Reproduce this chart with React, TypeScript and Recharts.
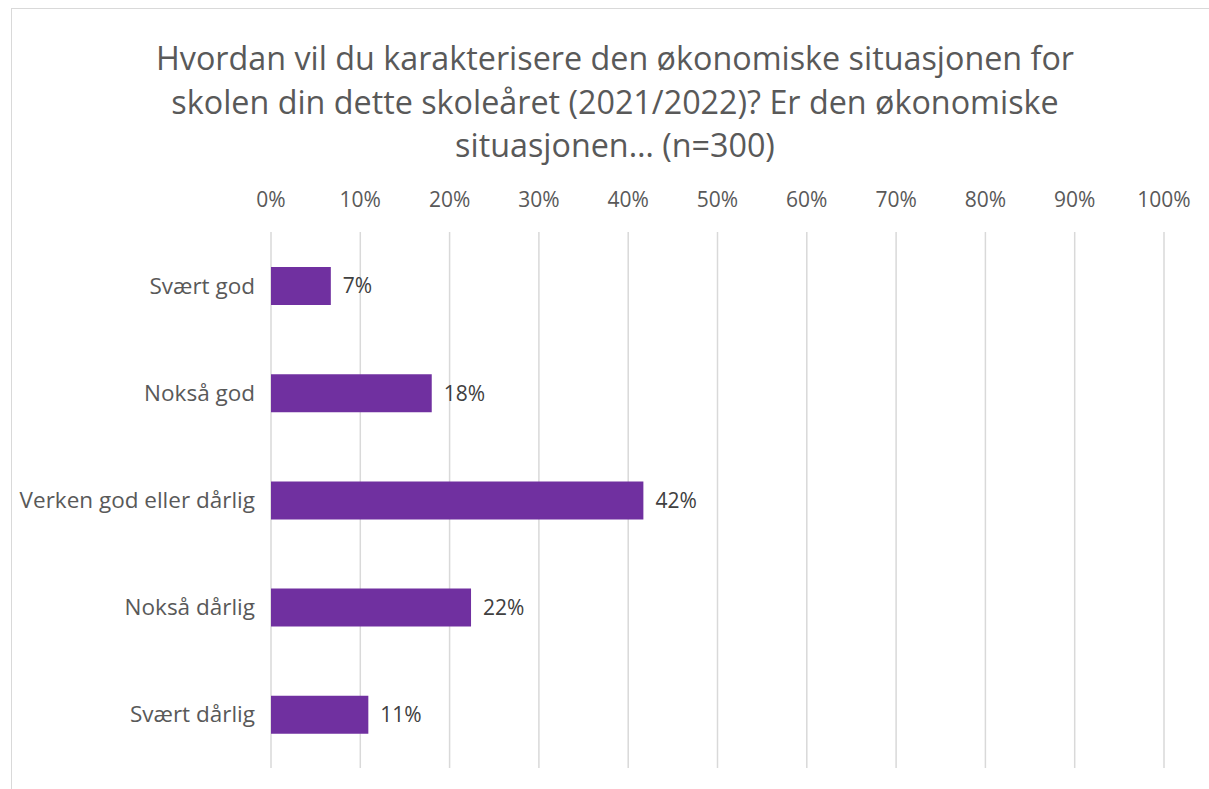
import { BarChart, Bar, XAxis, YAxis, CartesianGrid, LabelList } from "recharts";

const kategorier = [
  "Svært god",
  "Nokså god",
  "Verken god eller dårlig",
  "Nokså dårlig",
  "Svært dårlig",
];
// bar lengths (labels show the rounded values)
const andeler = [6.7, 18.0, 41.7, 22.4, 10.9];
const prosentTicks = [0, 10, 20, 30, 40, 50, 60, 70, 80, 90, 100];
const tittelLinjer = [
  "Hvordan vil du karakterisere den økonomiske situasjonen for",
  "skolen din dette skoleåret (2021/2022)? Er den økonomiske",
  "situasjonen… (n=300)",
];

const data = kategorier.map((navn, i) => ({ navn, andel: andeler[i] }));

const font = "'Open Sans', sans-serif";
const farge = "#7030A0";

function App() {
  return (
    <div
      style={{
        position: "absolute",
        left: 0,
        top: 0,
        width: 1209,
        height: 789,
        overflow: "hidden",
        background: "#fff",
        fontFamily: font,
      }}
    >
      {/* ramme rundt diagrammet */}
      <div
        style={{
          position: "absolute",
          left: 11,
          top: 8,
          width: 1300,
          height: 900,
          borderLeft: "1px solid #d9d9d9",
          borderTop: "1px solid #d9d9d9",
        }}
      />

      <div
        style={{
          position: "absolute",
          left: 15,
          top: 36,
          width: 1200,
          textAlign: "center",
          fontSize: 32.3,
          lineHeight: "43.5px",
          color: "#595959",
        }}
      >
        {tittelLinjer.map((l) => (
          <div key={l}>{l}</div>
        ))}
      </div>

      <div style={{ position: "absolute", left: 0, top: 0 }}>
        <BarChart
          width={1209}
          height={789}
          data={data}
          layout="vertical"
          margin={{ top: 202, right: 45, bottom: 21, left: 0 }}
          barCategoryGap="32%"
        >
          <CartesianGrid horizontal={false} stroke="#d9d9d9" strokeWidth={1.5} />
          <XAxis
            type="number"
            orientation="top"
            domain={[0, 100]}
            ticks={prosentTicks}
            tickFormatter={(v) => v + "%"}
            axisLine={false}
            tickLine={false}
            height={30}
            tick={{ fontSize: 21, fill: "#595959", fontFamily: font }}
            tickMargin={19}
          />
          <YAxis
            type="category"
            dataKey="navn"
            width={271}
            axisLine={false}
            tickLine={false}
            tickMargin={10}
            tick={{ fontSize: 22.5, fill: "#595959", fontFamily: font }}
          />
          <Bar dataKey="andel" fill={farge} barSize={38} isAnimationActive={false}>
            <LabelList
              dataKey="andel"
              position="right"
              offset={12}
              formatter={(v: any) => Math.round(v) + "%"}
              style={{ fontSize: 21, fill: "#404040", fontFamily: font }}
            />
          </Bar>
        </BarChart>
      </div>
    </div>
  );
}

export default App;
